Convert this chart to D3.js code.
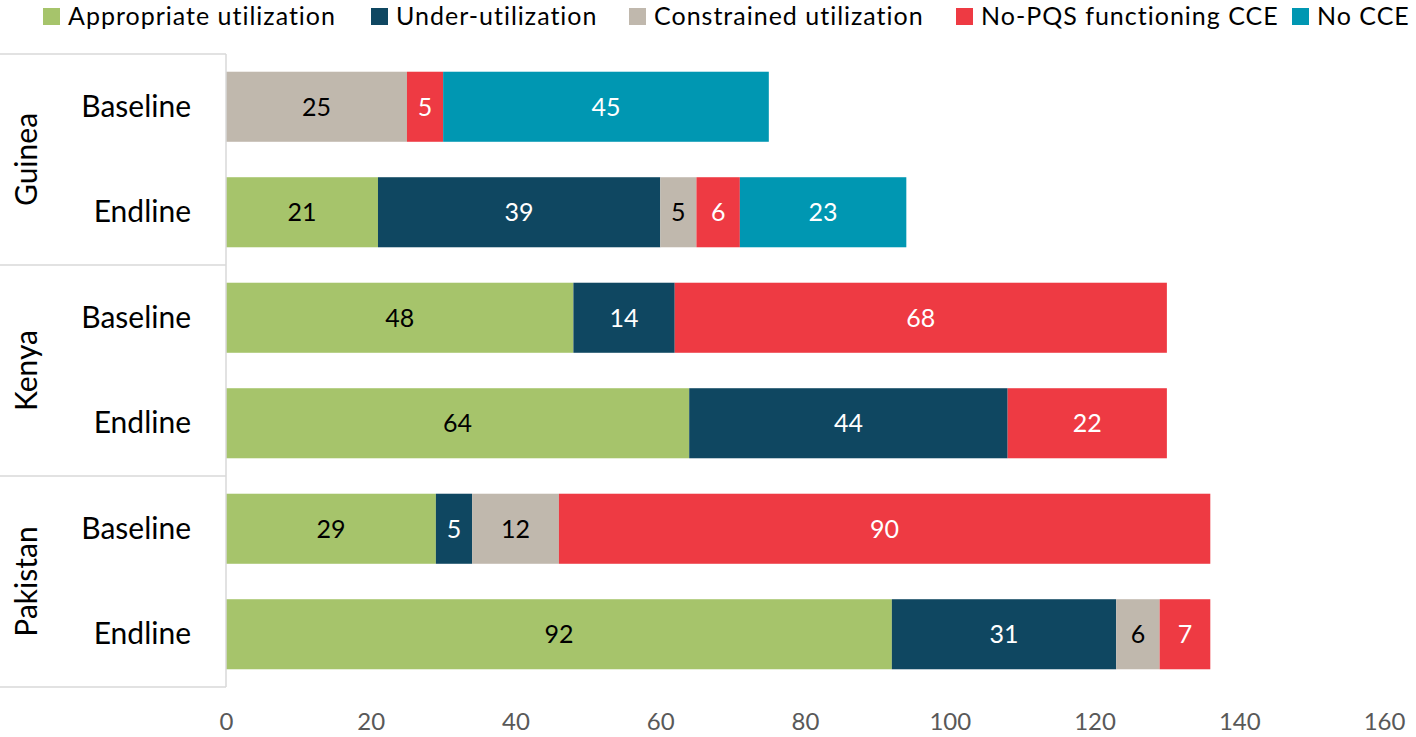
<!DOCTYPE html>
<html>
<head>
  <meta charset="utf-8">
  <script src="https://d3js.org/d3.v7.min.js"></script>
  <style>
    body { margin: 0; background: #fff; }
    text { font-family: Lato, "Open Sans", sans-serif; }
  </style>
</head>
<body>
<script>
  // data
  var countries = ["Guinea", "Kenya", "Pakistan"];
  var rounds = ["Baseline", "Endline"];
  var seriesNames = ["Appropriate utilization", "Under-utilization", "Constrained utilization",
                     "No-PQS functioning CCE", "No CCE"];
  var seriesColors = ["#a6c46b", "#0f4761", "#c0b8ad", "#ee3a43", "#0097b2"];
  var labelColors = ["#000", "#fff", "#000", "#fff", "#fff"];

  // one array per series, order: Guinea B, Guinea E, Kenya B, Kenya E, Pakistan B, Pakistan E
  var appropriate = [0, 21, 48, 64, 29, 92];
  var underUse    = [0, 39, 14, 44, 5, 31];
  var constrained = [25, 5, 0, 0, 12, 6];
  var noPqs       = [5, 6, 68, 22, 90, 7];
  var noCce       = [45, 23, 0, 0, 0, 0];
  var xTicks = [0, 20, 40, 60, 80, 100, 120, 140, 160];

  var W = 1416, H = 737;
  var svg = d3.select("body").append("svg").attr("width", W).attr("height", H);

  var rows = [];
  countries.forEach(function(c) {
    rounds.forEach(function(r) { rows.push({country: c, round: r}); });
  });
  var allSeries = [appropriate, underUse, constrained, noPqs, noCce];
  rows.forEach(function(row, i) {
    seriesNames.forEach(function(s, j) { row[s] = allSeries[j][i]; });
  });

  var plotTop = 54, plotBottom = 687, plotLeft = 226;
  var x = d3.scaleLinear().domain([0, 160]).range([plotLeft, 1384]);
  var y = d3.scaleBand().domain(d3.range(rows.length)).range([plotTop, plotBottom])
      .paddingInner(0.336).paddingOuter(0.168);
  var g = d3.scaleBand().domain(countries).range([plotTop, plotBottom]);

  var stack = d3.stack().keys(seriesNames)(rows);

  // bars
  var layers = svg.append("g").selectAll("g").data(stack).enter().append("g")
      .attr("fill", function(d, i) { return seriesColors[i]; });
  layers.selectAll("rect").data(function(d) { return d; }).enter()
    .filter(function(d) { return d[1] - d[0] > 0; })
    .append("rect")
      .attr("x", function(d) { return x(d[0]); })
      .attr("y", function(d) { return y(rows.indexOf(d.data)); })
      .attr("width", function(d) { return x(d[1]) - x(d[0]); })
      .attr("height", y.bandwidth());

  // value labels
  stack.forEach(function(layer, j) {
    svg.append("g").selectAll("text").data(layer.filter(function(d) { return d[1] - d[0] > 0; }))
      .enter().append("text")
        .attr("x", function(d) { return (x(d[0]) + x(d[1])) / 2; })
        .attr("y", function(d) { return y(rows.indexOf(d.data)) + y.bandwidth() / 2; })
        .attr("dy", "0.36em")
        .attr("text-anchor", "middle")
        .attr("font-size", 25)
        .attr("fill", labelColors[j])
        .text(function(d) { return d[1] - d[0]; });
  });

  // category axis frame
  var frame = svg.append("g").attr("stroke", "#d9d9d9").attr("stroke-width", 1.5);
  frame.append("line").attr("x1", plotLeft).attr("x2", plotLeft)
      .attr("y1", plotTop).attr("y2", plotBottom);
  [plotTop].concat(countries.map(function(c) { return g(c) + g.bandwidth(); })).forEach(function(v) {
    frame.append("line").attr("x1", 0).attr("x2", plotLeft).attr("y1", v).attr("y2", v);
  });

  svg.append("g").selectAll("text").data(rows).enter().append("text")
      .attr("x", 191)
      .attr("y", function(d, i) { return y(i) + y.bandwidth() / 2; })
      .attr("dy", "0.33em")
      .attr("text-anchor", "end")
      .attr("font-size", 30)
      .attr("fill", "#000")
      .text(function(d) { return d.round; });

  svg.append("g").selectAll("text").data(countries).enter().append("text")
      .attr("transform", function(d) {
        return "translate(37," + (g(d) + g.bandwidth() / 2) + ") rotate(-90)";
      })
      .attr("text-anchor", "middle")
      .attr("font-size", 30)
      .attr("fill", "#000")
      .text(function(d) { return d; });

  // x axis labels
  var xAxis = svg.append("g").attr("transform", "translate(0,730)")
      .call(d3.axisBottom(x).tickValues(xTicks).tickSize(0).tickPadding(0));
  xAxis.select(".domain").remove();
  xAxis.selectAll("text").attr("font-size", 24).attr("fill", "#595959")
      .attr("font-family", "Lato, 'Open Sans', sans-serif").attr("dy", 0);

  // legend
  var legendX = [43, 371, 629, 956, 1292];
  var legend = svg.append("g").selectAll("g").data(seriesNames).enter().append("g")
      .attr("transform", function(d, i) { return "translate(" + legendX[i] + ",8)"; });
  legend.append("rect").attr("width", 17).attr("height", 17)
      .attr("fill", function(d, i) { return seriesColors[i]; });
  legend.append("text").attr("x", 25).attr("y", 17)
      .attr("font-size", 25).attr("letter-spacing", 1).attr("fill", "#000")
      .text(function(d) { return d; });
</script>
</body>
</html>
